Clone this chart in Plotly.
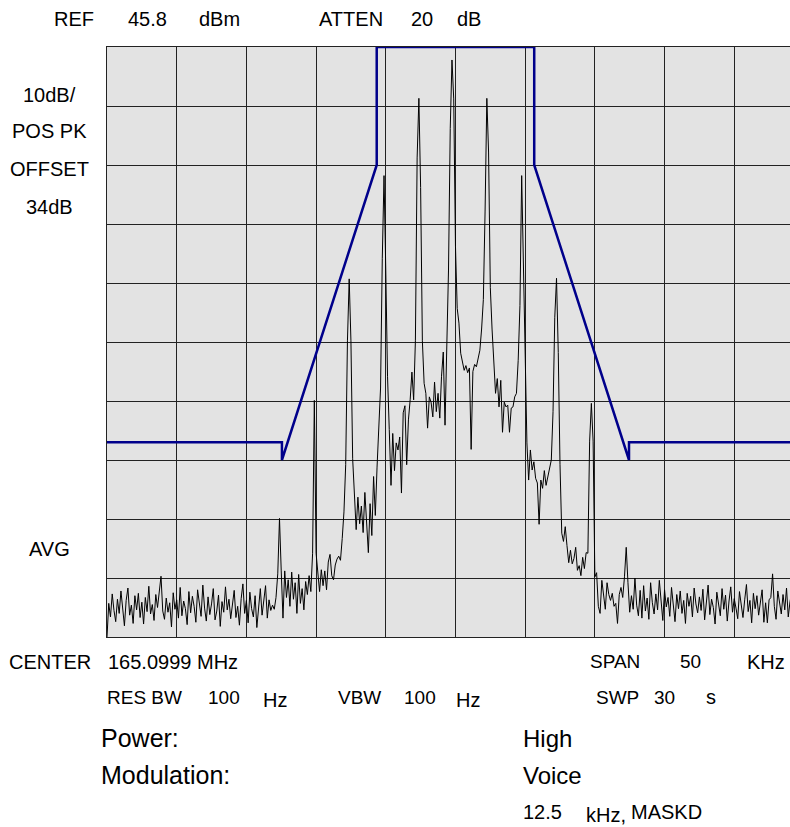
import plotly.graph_objects as go

# Spectrum analyzer settings
REF_LEVEL_DBM = 45.8
DB_PER_DIV = 10
N_DIV = 10
FREQ_START_KHZ = -25.0
FREQ_STEP_KHZ = 0.125
VISIBLE_STOP_KHZ = 24.0

# Trace levels (dBm), one value per frequency bin
noise_floor_low = [
    -54.2,
    -48.5, -50.8, -46.9, -49.7, -51.6, -47.8, -50.2, -46.4, -49.1, -52.3,
    -48.0, -45.9, -50.5, -48.8, -51.9, -47.2, -49.6, -46.8, -50.9, -48.3,
    -52.0, -47.5, -49.9, -45.6, -50.3, -48.7, -51.4, -47.0, -49.2, -46.1,
    -43.9, -49.8, -51.2, -47.6, -50.0, -48.4, -52.5, -46.7, -49.5, -47.9,
    -51.0, -45.8, -50.6, -48.1, -49.4, -52.1, -46.5, -50.1, -47.3, -49.0,
    -51.7, -46.2, -48.9, -50.7, -45.4, -49.3, -51.5, -47.4, -50.4, -48.6,
    -46.0, -51.3, -49.8, -47.1, -52.4, -48.2, -50.0, -45.7, -49.6, -47.8,
    -51.1, -48.5, -46.3, -50.9, -49.0, -52.2, -47.7, -45.2, -50.2, -48.0,
    -51.8, -46.6, -49.4, -50.8, -47.2, -52.6, -48.7, -46.0, -50.5, -48.3,
    -45.5, -51.0, -47.9, -49.7, -48.8,
]

spectrum_core = [
    -49.5, -47.5, -43.5, -34.1, -43.0, -51.0,
    -43.0, -47.5, -44.5, -49.0, -43.2, -47.8, -45.0, -50.2, -43.6, -48.5,
    -46.0, -49.6, -44.8, -47.0, -43.8, -46.5, -40.0,
    -14.1, -40.0,
    -44.0, -46.5, -42.8, -45.5, -43.0, -46.2, -41.5, -40.2, -43.8, -44.5,
    -42.0, -41.0, -40.5, -41.2, -37.5, -33.0,
    -25.0, -4.0, 6.5, -4.0, -24.0,
    -29.0, -36.0, -30.5, -35.0, -32.0, -36.5, -29.7, -34.0, -39.9, -31.6,
    -37.0, -27.0, -33.6, -25.4, -19.7, -12.0,
    10.0, 24.0, 8.0, -10.0,
    -19.0, -28.5, -19.7, -26.0, -21.3, -22.5, -20.3, -29.8, -16.2, -15.0,
    -25.0, -17.4, -14.0, -9.3, -14.0, -4.0,
    27.0, 37.1, 22.0, -4.0,
    -11.2, -12.9, -18.8, -13.5, -14.4, -16.9, -11.0, -16.0, -12.9, -17.1,
    -10.0, -5.9, -18.3, -3.4, 8.0,
    32.0, 43.6, 37.0, 12.0, 1.5,
    -1.0, -6.1, -7.8, -9.0, -8.2, -9.4, -8.6, -22.4, -9.2, -8.0,
    -8.4, -7.0, -5.6, -2.0, 3.0,
    18.0, 37.1, 28.0, 5.0, -2.0,
    -7.8, -12.9, -10.4, -15.2, -10.7, -19.5, -14.4, -15.2, -14.9, -19.5,
    -15.4, -15.2, -13.5, -12.9, -7.3,
    2.0, 24.0, 8.0, -12.0, -21.3,
    -27.6, -22.5, -25.9, -24.5, -27.3, -28.1, -35.1, -27.6, -29.0, -26.0,
    -28.5, -27.0, -25.9, -24.2,
    -16.0, 0.0, 6.6, -6.0, -25.0, -36.6,
    -38.0, -35.5, -38.7, -41.6, -39.5, -41.8, -40.9, -39.0, -42.9, -42.1,
    -43.8, -40.7, -42.6, -39.9, -40.0,
    -21.0, -14.6, -21.0, -44.0,
    -43.3, -49.0, -50.2, -44.6, -47.5, -49.5, -45.0, -47.0, -48.0, -46.8,
    -49.0, -48.5, -51.9, -47.0, -45.8, -47.5, -44.0,
    -39.0, -45.0,
]

noise_floor_high = [
    -50.0,
    -47.2, -49.5, -44.2, -48.8, -50.6, -46.3, -51.0, -45.5, -49.8, -47.6,
    -51.2, -45.0, -48.4, -50.3, -46.9, -49.6, -44.6, -48.9, -51.4, -46.2,
    -49.1, -47.5, -50.7, -45.8, -48.2, -51.6, -47.0, -49.4, -46.4, -50.2,
    -48.0, -51.9, -46.8, -49.0, -47.3, -50.8, -45.9, -48.6, -50.1, -47.4,
    -49.7, -46.1, -51.3, -48.3, -45.4, -50.4, -47.8, -49.2, -52.0, -46.6,
    -48.9, -50.6, -46.0, -49.5, -47.1, -51.5, -48.1, -45.7, -50.0, -47.7,
    -49.3, -51.1, -46.5, -48.5, -50.9, -47.9, -45.3, -49.9, -48.0, -51.8,
    -46.8, -49.4, -47.2, -50.5, -48.6, -46.2, -51.7, -48.4, -51.8, -47.9,
    -47.5, -43.5, -49.0, -51.2, -46.4, -48.8, -50.3, -47.0, -49.6, -45.9,
    -50.8, -48.2, -46.7, -49.9, -47.6, -51.0, -48.5, -46.3, -49.4, -50.1,
]

# Emission mask (12.5 kHz channel)
mask_khz = [-25.0, -12.45, -12.45, -5.65, -5.65, 5.65, 5.65, 12.45, 12.45, 25.0]
mask_dbm = [-21.2, -21.2, -24.2, 25.8, 45.8, 45.8, 25.8, -24.2, -21.2, -21.2]

trace_dbm = noise_floor_low + spectrum_core + noise_floor_high
freq_khz = [FREQ_START_KHZ + FREQ_STEP_KHZ * i for i in range(len(trace_dbm))]

bottom_dbm = REF_LEVEL_DBM - DB_PER_DIV * N_DIV

FONT = "Liberation Sans, Arial, sans-serif"

fig = go.Figure()
fig.add_trace(go.Scatter(
    x=freq_khz, y=trace_dbm, mode="lines",
    line=dict(color="#000000", width=1), hoverinfo="skip",
))
fig.add_trace(go.Scatter(
    x=mask_khz, y=mask_dbm, mode="lines",
    line=dict(color="#00008b", width=2.5), hoverinfo="skip",
))

# Plot area in pixels
L, T, R, B = 107, 47, 0, 190
W, H = 790, 827
PW, PH = W - L - R, H - T - B


def label(px, py, text, size, anchor="left"):
    fig.add_annotation(
        x=(px - L) / PW, y=(H - B - py) / PH, xref="paper", yref="paper",
        text=text, showarrow=False, xanchor=anchor, yanchor="middle",
        font=dict(family=FONT, size=size, color="#000000"), borderpad=0,
    )


S = 20     # instrument annotations
SN = 19    # compact instrument fields
# header
label(53, 19, "REF", S)
label(127, 19, "45.8", S)
label(198, 19, "dBm", S)
label(318, 19, "ATTEN", S)
label(410, 19, "20", S)
label(456, 19, "dB", S)
# left column
label(49.5, 94.5, "10dB/", S, "center")
label(49.5, 131, "POS PK", S, "center")
label(49.5, 169, "OFFSET", S, "center")
label(49.5, 207, "34dB", S, "center")
label(49.5, 549, "AVG", S, "center")
# footer, instrument settings
label(8, 662, "CENTER", S)
label(107, 662, "165.0999 MHz", S)
label(589, 662, "SPAN", SN)
label(679, 662, "50", SN)
label(746, 662, "KHz", S)
label(106, 697, "RES BW", SN)
label(207, 697, "100", SN)
label(262, 700, "Hz", S)
label(337, 697, "VBW", SN)
label(403, 697, "100", SN)
label(455, 700, "Hz", S)
label(595, 697, "SWP", SN)
label(653, 697, "30", SN)
label(705, 697, "s", S)
# footer, test conditions
label(100, 738, "Power:", 25)
label(522, 738, "High", 24)
label(100, 775, "Modulation:", 25)
label(522, 775, "Voice", 24)
label(522, 812, "12.5", 20)
label(585, 815, "kHz,", 20)
label(630, 812, "MASKD", 20)

grid = dict(showgrid=True, gridcolor="#222222", gridwidth=1,
            showticklabels=False, ticks="", zeroline=False,
            showline=True, linecolor="#222222", linewidth=1)

fig.update_layout(
    width=W, height=H, margin=dict(l=L, r=R, t=T, b=B),
    paper_bgcolor="#ffffff", plot_bgcolor="#e3e3e3",
    showlegend=False,
    xaxis=dict(range=[FREQ_START_KHZ, VISIBLE_STOP_KHZ], tick0=FREQ_START_KHZ,
               dtick=5, mirror=True, **grid),
    yaxis=dict(range=[bottom_dbm, REF_LEVEL_DBM], tick0=REF_LEVEL_DBM,
               dtick=DB_PER_DIV, mirror=False, **grid),
)

fig.write_html("out.html", config={"displayModeBar": False})
